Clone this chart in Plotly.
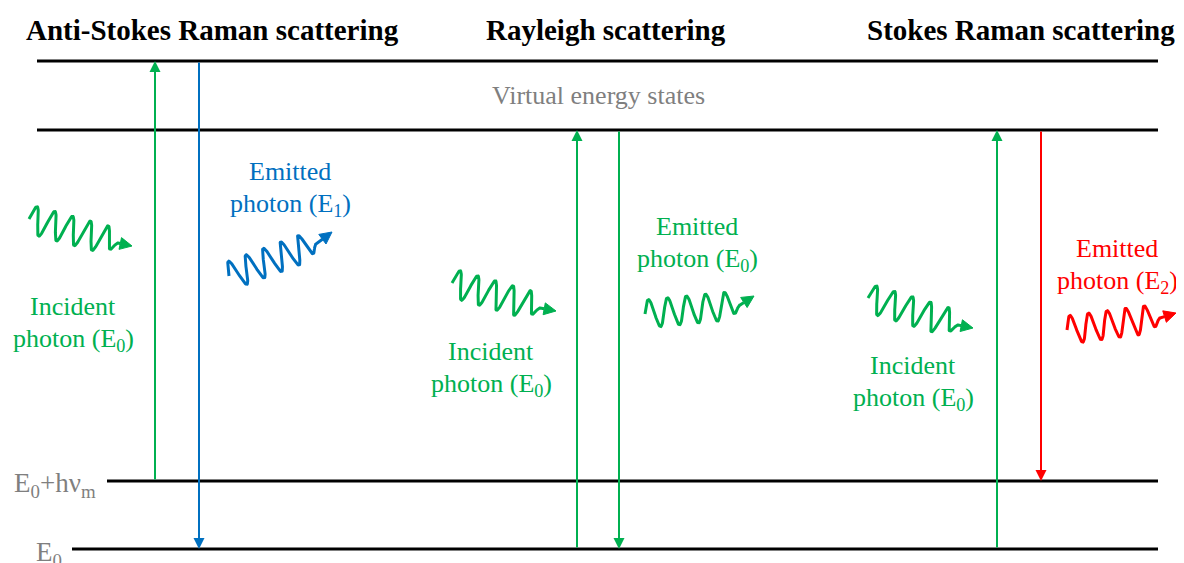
"""Energy level diagram: Anti-Stokes / Rayleigh / Stokes scattering."""

import numpy as np
import plotly.graph_objects as go

GREEN = "#00B050"
BLUE = "#0070C0"
RED = "#FF0000"
GRAY = "#7F7F7F"
SERIF = "Liberation Serif, Times New Roman, serif"

W, H = 1184, 563
PAD = 8  # page body margin, compensated in the axis ranges

# energy levels (y in pixel space) and their horizontal extents
level_names = ["virtual_top", "virtual_bottom", "E0+hvm", "E0"]
level_y = [61, 130, 481, 549]
level_x0 = [37, 37, 107, 72]
level_x1 = [1158, 1158, 1158, 1158]

# vertical transitions: x, from-level, to-level, colour
trans_x = [155, 199, 577, 619, 997, 1041]
trans_from = [481, 61, 549, 130, 549, 130]
trans_to = [61, 549, 130, 549, 130, 481]
trans_color = [GREEN, BLUE, GREEN, GREEN, GREEN, RED]

# photons (wavy arrows): start, end of wave axis, arrow tip, colour
ph_start = [(29, 219), (229, 276), (452, 283), (645, 314), (868, 298), (1067, 330)]
ph_end = [(118, 243), (316, 244), (540, 308), (740, 305), (958, 325), (1160, 318)]
ph_tip = [(132, 246), (332, 232), (556, 311), (754, 296), (973, 328), (1176, 313)]
ph_color = [GREEN, BLUE, GREEN, GREEN, GREEN, RED]
ph_cycles = 5
ph_amp = 14

# text labels
titles = ["Anti-Stokes Raman scattering", "Rayleigh scattering", "Stokes Raman scattering"]
title_x = [212, 606, 1021]

label_line1 = ["Incident", "Emitted", "Incident", "Emitted", "Incident", "Emitted"]
label_line2 = ["photon (E<sub>0</sub>)", "photon (E<sub>1</sub>)", "photon (E<sub>0</sub>)",
               "photon (E<sub>0</sub>)", "photon (E<sub>0</sub>)", "photon (E<sub>2</sub>)"]
label_x = [73, 290, 491, 697, 913, 1117]
label_y = [306, 171, 351, 226, 365, 248]
label_color = [GREEN, BLUE, GREEN, GREEN, GREEN, RED]

fig = go.Figure()

for y, x0, x1 in zip(level_y, level_x0, level_x1):
    fig.add_shape(type="line", x0=x0, x1=x1, y0=y, y1=y,
                  line=dict(color="black", width=3), layer="below")

for x, y0, y1, c in zip(trans_x, trans_from, trans_to, trans_color):
    fig.add_annotation(x=x, y=y1, ax=x, ay=y0, xref="x", yref="y",
                       axref="x", ayref="y", showarrow=True, text="",
                       arrowhead=2, arrowsize=1.1, arrowwidth=2, arrowcolor=c)

for p0, p1, tip, c in zip(ph_start, ph_end, ph_tip, ph_color):
    p0, p1, tip = np.array(p0, float), np.array(p1, float), np.array(tip, float)
    d = p1 - p0
    u = d / np.hypot(*d)
    n = np.array([u[1], -u[0]])
    t = np.linspace(0, 1, 300)
    env = np.minimum(1, (1 - t) / 0.1)  # wave fades into the tail
    pts = p0 + np.outer(t, d) + np.outer(ph_amp * np.sin(2 * np.pi * ph_cycles * t) * env, n)
    du = tip - p1
    ul = du / np.hypot(*du)
    base = tip - ul * 12
    pts = np.vstack([pts, base])
    fig.add_trace(go.Scatter(x=pts[:, 0], y=pts[:, 1], mode="lines",
                             line=dict(color=c, width=3),
                             hoverinfo="skip", showlegend=False))
    nl = np.array([ul[1], -ul[0]])
    head = np.array([tip, base + nl * 6, base - nl * 6, tip])
    fig.add_trace(go.Scatter(x=head[:, 0], y=head[:, 1], mode="lines", fill="toself",
                             fillcolor=c, line=dict(color=c, width=1),
                             hoverinfo="skip", showlegend=False))

for t, x in zip(titles, title_x):
    fig.add_annotation(x=x, y=30, text=f"<b>{t}</b>", showarrow=False,
                       font=dict(family=SERIF, size=29, color="black"))

fig.add_annotation(x=598, y=95, text="Virtual energy states", showarrow=False,
                   font=dict(family=SERIF, size=26, color=GRAY))

for l1, l2, x, y, c in zip(label_line1, label_line2, label_x, label_y, label_color):
    fig.add_annotation(x=x, y=y, text=l1, showarrow=False,
                       font=dict(family=SERIF, size=26, color=c))
    fig.add_annotation(x=x, y=y + 34, text=l2, showarrow=False,
                       font=dict(family=SERIF, size=26, color=c))

fig.add_annotation(x=98, y=485, text="E<sub>0</sub>+hν<sub>m</sub>", showarrow=False,
                   xanchor="right", font=dict(family=SERIF, size=27, color=GRAY))
fig.add_annotation(x=64, y=554, text="E<sub>0</sub>", showarrow=False,
                   xanchor="right", font=dict(family=SERIF, size=27, color=GRAY))

fig.update_xaxes(range=[PAD, W + PAD], visible=False, fixedrange=True)
fig.update_yaxes(range=[H + PAD, PAD], visible=False, fixedrange=True)
fig.update_layout(width=W, height=H, margin=dict(l=0, r=0, t=0, b=0),
                  plot_bgcolor="white", paper_bgcolor="white", showlegend=False)

fig.write_html("out.html")
